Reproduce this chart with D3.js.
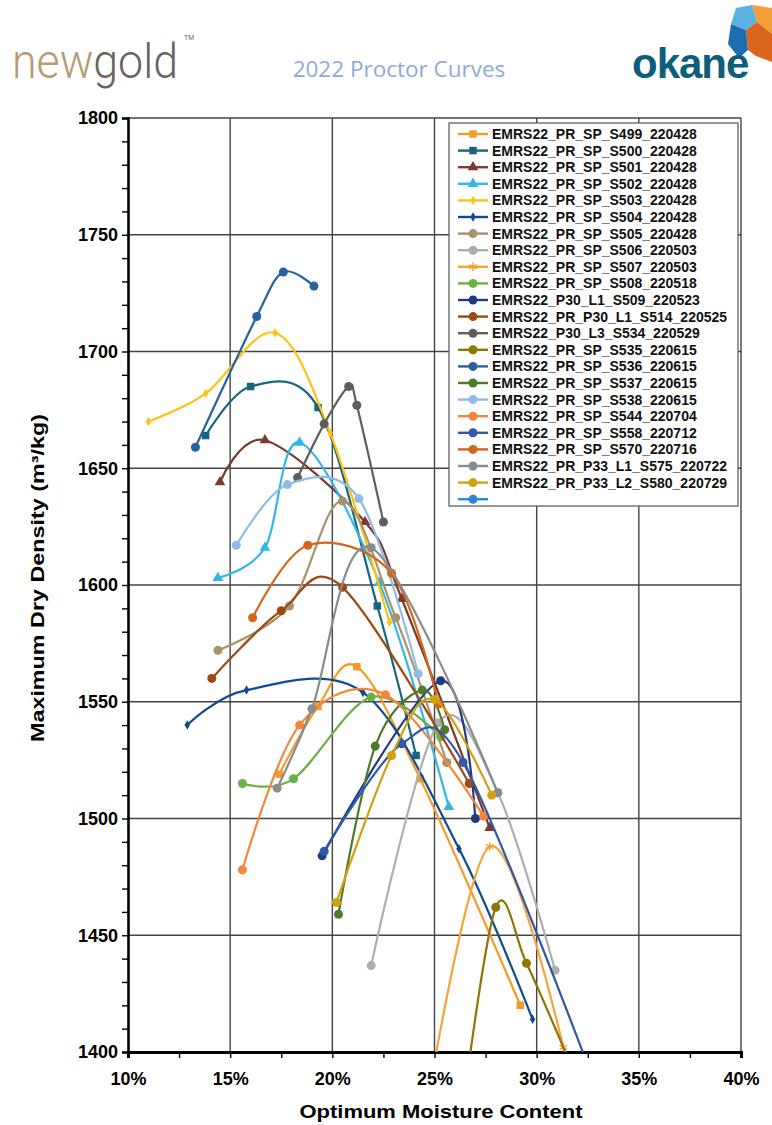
<!DOCTYPE html>
<html>
<head>
<meta charset="utf-8">
<script src="https://cdn.jsdelivr.net/npm/d3@7"></script>
<style>
body { margin: 0; background: #fff; }
svg text { font-family: "Liberation Sans", Arial, sans-serif; }
.axis text { font-weight: bold; font-size: 18px; fill: #000; }
.legend text { font-weight: bold; font-size: 14px; fill: #111; }
</style>
</head>
<body>
<svg id="chart" width="772" height="1125"></svg>
<script>
// data: [moisture %, dry density]
const S499 = [[17.4, 1519], [19.3, 1548], [21.2, 1565], [24.3, 1517], [29.2, 1420]];
const S500 = [[13.8, 1664], [16.0, 1685], [19.3, 1676], [22.2, 1591], [24.1, 1527]];
const S501 = [[14.5, 1644], [16.7, 1662], [21.6, 1627], [23.4, 1594], [27.7, 1496]];
const S502 = [[14.4, 1603], [16.7, 1616], [18.4, 1661], [22.3, 1601], [25.7, 1505]];
const S503 = [[11.0, 1670], [13.8, 1682], [17.2, 1708], [19.9, 1665], [22.8, 1584]];
const S504 = [[12.9, 1540], [15.8, 1555], [21.5, 1554], [26.2, 1487], [29.8, 1414]];
const S505 = [[14.4, 1572], [17.9, 1591], [20.5, 1636], [23.1, 1586], [25.6, 1524]];
const S506 = [[21.9, 1437], [25.2, 1541], [28.1, 1511], [30.9, 1435]];
const S507 = [[24.4, 1365], [27.7, 1488], [31.3, 1402]];
const S508 = [[15.6, 1515], [18.1, 1517], [21.9, 1552], [25.3, 1535]];
const S509 = [[19.5, 1484], [25.3, 1559], [27.0, 1500]];
const S514 = [[14.1, 1560], [17.5, 1589], [20.5, 1599], [26.7, 1515]];
const S534 = [[18.3, 1646], [19.6, 1669], [20.8, 1685], [21.2, 1677], [22.5, 1627]];
const S535 = [[26.3, 1370], [28.0, 1462], [29.5, 1438], [31.5, 1398]];
const S536 = [[13.3, 1659], [16.3, 1715], [17.6, 1734], [19.1, 1728]];
const S537 = [[20.3, 1459], [22.1, 1531], [24.4, 1555], [25.5, 1538]];
const S538 = [[15.3, 1617], [17.8, 1643], [21.3, 1637], [24.2, 1562]];
const S544 = [[15.6, 1478], [18.4, 1540], [22.6, 1553], [27.4, 1501]];
const S558 = [[19.6, 1486], [23.4, 1532], [26.4, 1524], [32.6, 1392]];
const S570 = [[16.1, 1586], [18.8, 1617], [22.9, 1605], [25.2, 1549]];
const S575 = [[17.3, 1513], [19.0, 1547], [21.9, 1616], [28.1, 1511]];
const S580 = [[20.2, 1464], [22.9, 1527], [25.0, 1551], [27.8, 1510]];

const seriesNames = [
    "EMRS22_PR_SP_S499_220428", "EMRS22_PR_SP_S500_220428", "EMRS22_PR_SP_S501_220428",
    "EMRS22_PR_SP_S502_220428", "EMRS22_PR_SP_S503_220428", "EMRS22_PR_SP_S504_220428",
    "EMRS22_PR_SP_S505_220428", "EMRS22_PR_SP_S506_220503", "EMRS22_PR_SP_S507_220503",
    "EMRS22_PR_SP_S508_220518", "EMRS22_P30_L1_S509_220523", "EMRS22_PR_P30_L1_S514_220525",
    "EMRS22_P30_L3_S534_220529", "EMRS22_PR_SP_S535_220615", "EMRS22_PR_SP_S536_220615",
    "EMRS22_PR_SP_S537_220615", "EMRS22_PR_SP_S538_220615", "EMRS22_PR_SP_S544_220704",
    "EMRS22_PR_SP_S558_220712", "EMRS22_PR_SP_S570_220716", "EMRS22_PR_P33_L1_S575_220722",
    "EMRS22_PR_P33_L2_S580_220729", ""
];
const seriesData = [S499, S500, S501, S502, S503, S504, S505, S506, S507, S508, S509,
    S514, S534, S535, S536, S537, S538, S544, S558, S570, S575, S580, []];

const xTicks = [10, 15, 20, 25, 30, 35, 40];
const yTicks = [1400, 1450, 1500, 1550, 1600, 1650, 1700, 1750, 1800];

// styles
const colors = ["#F59B2A", "#17657F", "#7A3B2C", "#33B6E8", "#FFC20E", "#0F4C8E", "#A8946A",
    "#AEAEAE", "#F7A434", "#6CB043", "#203C7E", "#9D4912", "#5E5E5E", "#8E7602", "#2761A0",
    "#4B7B2B", "#8FBCE6", "#F4853D", "#3157A8", "#D2661D", "#8B8B8B", "#D2A10F", "#2F86D4"];
const markers = ["square", "square", "triangle", "triangle", "diamond", "diamond", "circle",
    "circle", "asterisk", "circle", "circle", "circle", "circle", "circle", "circle", "circle",
    "circle", "circle", "circle", "circle", "circle", "circle", "circle"];

const margin = {left: 128, right: 741, top: 118, bottom: 1052};

const svg = d3.select("#chart");

const xScale = d3.scaleLinear().domain([10, 40]).range([margin.left, margin.right]);
const yScale = d3.scaleLinear().domain([1400, 1800]).range([margin.bottom, margin.top]);

// header
const logo = svg.append("text")
    .attr("x", 12).attr("y", 78)
    .attr("textLength", 166).attr("lengthAdjust", "spacingAndGlyphs")
    .style("font-family", "Roboto, 'Liberation Sans Narrow', sans-serif")
    .style("font-weight", 300).style("font-size", "48px");
logo.append("tspan").attr("fill", "#B49D72").text("new");
logo.append("tspan").attr("fill", "#6C6460").text("gold");
svg.append("text").attr("x", 184).attr("y", 40).attr("fill", "#6C6460")
    .style("font-size", "7px").text("TM");

svg.append("text")
    .attr("x", 399).attr("y", 77)
    .attr("text-anchor", "middle")
    .attr("fill", "#8EAADB")
    .style("font-family", "'Open Sans', sans-serif")
    .style("font-size", "22.5px")
    .text("2022 Proctor Curves");

const mark = svg.append("g");
[
    [[736, 8], [752, 5], [757, 22], [746, 30], [731, 24], "#5DB0E2"],
    [[731, 24], [746, 30], [748, 50], [739, 58], [728, 44], "#1E6DB1"],
    [[752, 5], [772, 8], [772, 34], [757, 22], "#F3A03A"],
    [[757, 22], [772, 34], [772, 62], [756, 56], [748, 50], [746, 30], "#D9661C"]
].forEach(p => {
    const fill = p.pop();
    mark.append("polygon").attr("points", p.map(d => d.join(",")).join(" ")).attr("fill", fill);
});
svg.append("text")
    .attr("x", 632).attr("y", 78)
    .attr("fill", "#0C5E7D")
    .style("font-weight", "bold").style("font-size", "42px")
    .style("letter-spacing", "-1px")
    .text("okane");

// gridlines
const grid = svg.append("g");
grid.selectAll("line.v")
    .data(xTicks.slice(1))
    .join("line")
    .attr("x1", d => xScale(d)).attr("x2", d => xScale(d))
    .attr("y1", margin.top).attr("y2", margin.bottom)
    .attr("stroke", "#444").attr("stroke-width", 1.4);
grid.selectAll("line.h")
    .data(yTicks.slice(1))
    .join("line")
    .attr("x1", margin.left).attr("x2", margin.right)
    .attr("y1", d => yScale(d)).attr("y2", d => yScale(d))
    .attr("stroke", "#444").attr("stroke-width", 1.4);

// axes
const leftAxis = d3.axisLeft(yScale)
    .tickValues(d3.range(1400, 1801, 10))
    .tickSize(6).tickPadding(4)
    .tickFormat(d => d % 50 === 0 ? d : "");
const bottomAxis = d3.axisBottom(xScale)
    .tickValues(d3.range(10, 40.01, 2.5))
    .tickSize(6).tickPadding(14)
    .tickFormat(d => d % 5 === 0 ? d + "%" : "");

svg.append("g")
    .attr("class", "axis")
    .attr("transform", "translate(" + margin.left + ",0)")
    .call(leftAxis)
    .call(g => g.select(".domain").attr("stroke-width", 2.6))
    .call(g => g.selectAll(".tick line").attr("stroke-width", 1.4));

svg.append("g")
    .attr("class", "axis")
    .attr("transform", "translate(0," + margin.bottom + ")")
    .call(bottomAxis)
    .call(g => g.select(".domain").attr("stroke-width", 3))
    .call(g => g.selectAll(".tick line").attr("stroke-width", 1.4));

svg.append("text")
    .attr("transform", "translate(44,578) rotate(-90)")
    .attr("text-anchor", "middle")
    .attr("textLength", 328).attr("lengthAdjust", "spacingAndGlyphs")
    .style("font-weight", "bold").style("font-size", "18px")
    .text("Maximum Dry Density (m³/kg)");

svg.append("text")
    .attr("x", 441).attr("y", 1118)
    .attr("text-anchor", "middle")
    .attr("textLength", 283).attr("lengthAdjust", "spacingAndGlyphs")
    .style("font-weight", "bold").style("font-size", "19px")
    .text("Optimum Moisture Content");

// curves
svg.append("clipPath").attr("id", "plot-clip")
    .append("rect")
    .attr("x", margin.left).attr("y", margin.top)
    .attr("width", margin.right - margin.left).attr("height", margin.bottom - margin.top);

const line = d3.line()
    .x(d => xScale(d[0]))
    .y(d => yScale(d[1]))
    .curve(d3.curveCardinal.tension(0));

const symbolFor = {
    square: d3.symbol(d3.symbolSquare, 56),
    triangle: d3.symbol(d3.symbolTriangle, 50),
    diamond: d3.symbol(d3.symbolDiamond, 26),
    circle: d3.symbol(d3.symbolCircle, 64),
    asterisk: d3.symbol(d3.symbolAsterisk, 50)
};

const plot = svg.append("g").attr("clip-path", "url(#plot-clip)");

seriesData.forEach((data, i) => {
    if (!data.length) return;
    plot.append("path")
        .datum(data)
        .attr("d", line)
        .attr("fill", "none")
        .attr("stroke", colors[i])
        .attr("stroke-width", 2.2);
    plot.selectAll(".m" + i)
        .data(data)
        .join("path")
        .attr("transform", d => "translate(" + xScale(d[0]) + "," + yScale(d[1]) + ")")
        .attr("d", symbolFor[markers[i]]())
        .attr("fill", markers[i] === "asterisk" ? "none" : colors[i])
        .attr("stroke", markers[i] === "asterisk" ? colors[i] : "none")
        .attr("stroke-width", 1.5);
});

// legend
const legend = svg.append("g").attr("class", "legend");
legend.append("rect")
    .attr("x", 449).attr("y", 123)
    .attr("width", 289).attr("height", 383)
    .attr("fill", "#fff").attr("stroke", "#555").attr("stroke-width", 1.2);

const rows = legend.selectAll("g.row")
    .data(seriesNames)
    .join("g")
    .attr("transform", (d, i) => "translate(0," + (134 + i * 16.6) + ")");
rows.append("line")
    .attr("x1", 458).attr("x2", 488)
    .attr("stroke", (d, i) => colors[i]).attr("stroke-width", 2.4);
rows.append("path")
    .attr("transform", "translate(473,0)")
    .attr("d", (d, i) => symbolFor[markers[i]]())
    .attr("fill", (d, i) => markers[i] === "asterisk" ? "none" : colors[i])
    .attr("stroke", (d, i) => markers[i] === "asterisk" ? colors[i] : "none")
    .attr("stroke-width", 1.5);
rows.append("text")
    .attr("x", 492).attr("y", 5)
    .text(d => d);
</script>
</body>
</html>
